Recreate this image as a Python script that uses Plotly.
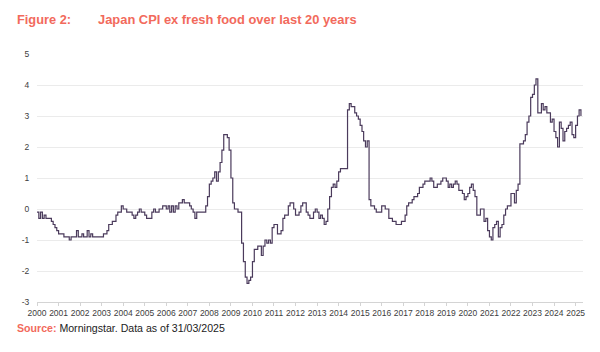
import pandas as pd
import plotly.graph_objects as go

# Monthly Japan CPI ex fresh food (% y/y), as plotted, Jan 2000 onwards
cpi_2000s = [
    -0.1, -0.3, -0.1, -0.3, -0.2, -0.3, -0.3, -0.3, -0.4, -0.5, -0.6, -0.7,  # 2000
    -0.8, -0.8, -0.8, -0.9, -0.9, -0.9, -1.0, -0.9, -0.9, -0.9, -0.7, -0.9,  # 2001
    -0.9, -0.8, -0.9, -0.9, -0.7, -0.9, -0.8, -0.9, -0.9, -0.9, -0.9, -0.9,  # 2002
    -0.9, -0.8, -0.8, -0.7, -0.5, -0.5, -0.4, -0.4, -0.2, -0.1, -0.1, 0.1,   # 2003
    0.0, 0.0, -0.1, -0.1, -0.1, -0.2, -0.3, -0.2, -0.1, 0.0, -0.1, -0.1,     # 2004
    -0.2, -0.3, -0.3, -0.3, -0.1, 0.0, -0.1, -0.1, 0.0, 0.0, 0.1, 0.1,       # 2005
    0.0, 0.1, -0.1, 0.1, -0.1, 0.1, 0.0, 0.2, 0.2, 0.3, 0.2, 0.2,            # 2006
    0.2, 0.1, 0.0, -0.1, -0.3, -0.1, -0.1, -0.1, -0.1, -0.1, 0.1, 0.4,       # 2007
    0.8, 0.9, 1.0, 1.2, 0.9, 1.2, 1.5, 1.9, 2.4, 2.4, 2.3, 1.9,              # 2008
    1.0, 0.2, 0.0, 0.0, -0.1, -0.1, -1.1, -1.7, -2.2, -2.4, -2.3, -2.2,      # 2009
]
cpi_2010s = [
    -1.7, -1.3, -1.3, -1.2, -1.2, -1.5, -1.2, -1.0, -1.1, -1.0, -1.1, -0.6,  # 2010
    -0.5, -0.5, -0.8, -0.8, -0.7, -0.3, -0.2, -0.2, 0.1, 0.2, 0.2, 0.0,      # 2011
    -0.2, -0.2, -0.1, 0.1, 0.2, 0.2, -0.1, -0.2, -0.3, -0.3, -0.1, 0.0,      # 2012
    -0.1, -0.3, -0.2, -0.3, -0.5, -0.4, 0.0, 0.4, 0.7, 0.8, 0.7, 0.9,        # 2013
    1.2, 1.3, 1.3, 1.3, 1.3, 3.2, 3.4, 3.3, 3.3, 3.1, 3.0, 2.9,              # 2014
    2.7, 2.5, 2.2, 2.0, 2.2, 0.3, 0.1, 0.1, 0.0, -0.1, -0.1, -0.1,           # 2015
    0.1, 0.1, 0.0, 0.0, -0.3, -0.3, -0.4, -0.4, -0.5, -0.5, -0.5, -0.4,      # 2016
    -0.4, -0.2, 0.1, 0.2, 0.2, 0.3, 0.4, 0.4, 0.5, 0.7, 0.7, 0.8,            # 2017
    0.9, 0.9, 0.9, 1.0, 0.9, 0.7, 0.7, 0.8, 0.8, 0.9, 1.0, 1.0,              # 2018
    0.9, 0.7, 0.8, 0.7, 0.8, 0.9, 0.8, 0.6, 0.6, 0.5, 0.3, 0.4,              # 2019
]
cpi_2020s = [
    0.5, 0.7, 0.8, 0.6, 0.4, -0.2, -0.2, 0.0, 0.0, -0.4, -0.3, -0.7,         # 2020
    -0.9, -1.0, -0.6, -0.5, -0.4, -0.9, -0.6, -0.5, -0.2, 0.0, 0.1, 0.1,     # 2021
    0.5, 0.5, 0.2, 0.6, 0.8, 2.1, 2.1, 2.2, 2.4, 2.8, 3.0, 3.6,              # 2022
    3.7, 4.0, 4.2, 3.1, 3.1, 3.4, 3.2, 3.3, 3.1, 3.1, 2.8, 2.9,              # 2023
    2.5, 2.3, 2.0, 2.8, 2.6, 2.2, 2.5, 2.6, 2.7, 2.8, 2.4, 2.3,              # 2024
    2.7, 3.0, 3.2, 3.0,                                                      # 2025
]
values = cpi_2000s + cpi_2010s + cpi_2020s
dates = pd.date_range("2000-01-01", periods=len(values), freq="MS")

year_labels = [str(y) for y in range(2000, 2026)]
year_ticks = [f"{y}-01-01" for y in range(2000, 2026)]
y_ticks = [-3, -2, -1, 0, 1, 2, 3, 4, 5]
y_labels = ["-3", "-2", "-1", "0", "1", "2", "3", "4", "5"]

title_prefix = "Figure 2:"
title_text = "Japan CPI ex fresh food over last 20 years"
source_label = "Source:"
source_text = "Morningstar. Data as of 31/03/2025"

CORAL = "#F26A5C"
LINE = "#4B3B5C"
FONT = "Liberation Sans, Arial, sans-serif"

W, H = 600, 352
L, R, T, B = 37, 583, 54, 302

def px(x):
    return (x - L) / (R - L)

def py(y):
    return (B - y) / (B - T)

fig = go.Figure()
fig.add_trace(go.Scatter(
    x=dates, y=values, mode="lines",
    line=dict(color=LINE, width=1.2, shape="hv"),
    hoverinfo="skip", showlegend=False,
))

fig.update_layout(
    width=W, height=H,
    margin=dict(l=L, r=W - R, t=T, b=H - B, pad=0),
    paper_bgcolor="white", plot_bgcolor="white",
    font=dict(family=FONT, size=8.5, color="#404040"),
    showlegend=False,
    xaxis=dict(
        type="date", range=["2000-01-01", "2025-05-06"],
        tickvals=year_ticks, ticktext=year_labels,
        showgrid=False, zeroline=False,
        showline=True, linecolor="#d4d4d4", linewidth=1,
        ticks="outside", ticklen=3, tickcolor="#d4d4d4",
        tickfont=dict(family=FONT, size=8.5, color="#404040"),
        fixedrange=True,
    ),
    yaxis=dict(
        range=[-3, 5], tickvals=y_ticks, ticktext=y_labels,
        showgrid=True, gridcolor="#ebebeb", gridwidth=1,
        zeroline=False, showline=False,
        ticks="outside", ticklen=5, tickcolor="rgba(0,0,0,0)",
        tickfont=dict(family=FONT, size=8.5, color="#404040"),
        fixedrange=True,
    ),
)

fig.add_annotation(
    xref="paper", yref="paper", x=px(15), y=py(19.5),
    xanchor="left", yanchor="middle", showarrow=False,
    text=f"<b>{title_prefix}</b>",
    font=dict(family=FONT, size=12.8, color=CORAL),
)
fig.add_annotation(
    xref="paper", yref="paper", x=px(96), y=py(19.5),
    xanchor="left", yanchor="middle", showarrow=False,
    text=f"<b>{title_text}</b>",
    font=dict(family=FONT, size=12.9, color=CORAL),
)
fig.add_annotation(
    xref="paper", yref="paper", x=px(15), y=py(327.5),
    xanchor="left", yanchor="middle", showarrow=False,
    text=f"<span style='color:{CORAL}'><b>{source_label}</b></span> {source_text}",
    font=dict(family=FONT, size=10.6, color="#222222"),
)

fig.write_html("out.html")
